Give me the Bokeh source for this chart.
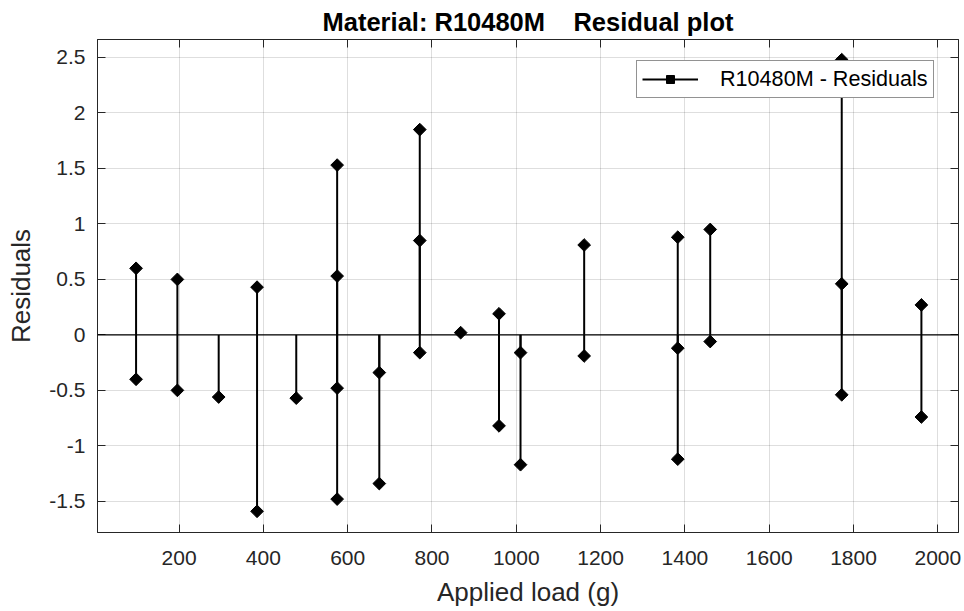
import math
from bokeh.plotting import figure
from bokeh.models import (Range1d, FixedTicker, LinearAxis, Span, Legend, LegendItem,
                          CustomJSTickFormatter, ColumnDataSource)
from bokeh.embed import file_html
from bokeh.resources import INLINE

# ---- data ----
loads = [98, 98, 196, 196, 294, 385, 385, 478, 575, 575, 575, 575,
         675, 675, 771, 771, 771, 868, 959, 959, 1010, 1010, 1161, 1161,
         1383, 1383, 1383, 1460, 1460, 1772, 1772, 1772, 1961, 1961]
residuals = [0.60, -0.40, 0.50, -0.50, -0.56, 0.43, -1.59, -0.57, 1.53, 0.53, -0.48, -1.48,
             -0.34, -1.34, 1.85, 0.85, -0.16, 0.02, 0.19, -0.82, -0.16, -1.17, 0.81, -0.19,
             0.88, -0.12, -1.12, 0.95, -0.06, 2.48, 0.46, -0.54, 0.27, -0.74]
baseline = [0.0] * len(loads)

x_ticks = [200, 400, 600, 800, 1000, 1200, 1400, 1600, 1800, 2000]
x_tick_labels = ["200", "400", "600", "800", "1000", "1200", "1400", "1600", "1800", "2000"]
y_ticks = [-1.5, -1, -0.5, 0, 0.5, 1, 1.5, 2, 2.5]
y_tick_labels = ["-1.5", "-1", "-0.5", "0", "0.5", "1", "1.5", "2", "2.5"]

title_text = "Material: R10480M\u00a0\u00a0\u00a0 Residual plot"
x_label = "Applied load (g)"
y_label = "Residuals"
legend_label = "R10480M - Residuals"

FONT = "Liberation Sans"
GRAY = "#262626"

src = ColumnDataSource(dict(x=loads, y=residuals, y0=baseline))

p = figure(width=962, height=609, output_backend="svg", toolbar_location=None,
           x_range=Range1d(6.5, 2049), y_range=Range1d(-1.781, 2.662),
           min_border_left=97, min_border_right=4, min_border_top=39, min_border_bottom=77)

p.title.text = title_text
p.title.text_font = FONT
p.title.text_font_size = "25.5px"
p.title.text_font_style = "bold"
p.title.text_color = "black"
p.title.align = "center"
p.title.standoff = 7

p.outline_line_color = GRAY
p.outline_line_width = 1
p.background_fill_color = "white"
p.border_fill_color = "white"

# axes
for ax, ticks, labels in ((p.xaxis[0], x_ticks, x_tick_labels), (p.yaxis[0], y_ticks, y_tick_labels)):
    ax.ticker = FixedTicker(ticks=ticks)
    ax.major_label_overrides = {t: l for t, l in zip(ticks, labels)}
    ax.major_tick_in = 8
    ax.major_tick_out = 0
    ax.minor_tick_in = 0
    ax.minor_tick_out = 0
    ax.axis_line_color = GRAY
    ax.major_tick_line_color = GRAY
    ax.major_label_text_font = FONT
    ax.major_label_text_font_size = "21px"
    ax.major_label_text_color = GRAY
    ax.axis_label_text_font = FONT
    ax.axis_label_text_font_size = "26px"
    ax.axis_label_text_font_style = "normal"
    ax.axis_label_text_color = GRAY

p.xaxis.axis_label = x_label
p.yaxis.axis_label = y_label
p.xaxis.major_label_standoff = 18
p.yaxis.major_label_standoff = 12
p.xaxis.axis_label_standoff = 9
p.yaxis.axis_label_standoff = 10

# box ticks on top and right
blank = CustomJSTickFormatter(code="return '';")
for loc, ticks in (("above", x_ticks), ("right", y_ticks)):
    a = LinearAxis(ticker=FixedTicker(ticks=ticks), formatter=blank,
                   major_tick_in=8, major_tick_out=0, minor_tick_in=0, minor_tick_out=0,
                   axis_line_color=GRAY, major_tick_line_color=GRAY,
                   major_label_standoff=0, major_label_text_font_size="1px")
    p.add_layout(a, loc)

p.grid.grid_line_color = "black"
p.grid.grid_line_alpha = 0.13
p.xgrid.ticker = FixedTicker(ticks=x_ticks)
p.ygrid.ticker = FixedTicker(ticks=y_ticks)

# baseline
p.add_layout(Span(location=0, dimension="width", line_color="black", line_width=1.2))

stems = p.segment(x0="x", y0="y0", x1="x", y1="y", source=src, line_color="black", line_width=2)
marks = p.scatter(x="x", y="y", source=src, marker="square", angle=math.pi / 4, size=9,
                  fill_color="black", line_color="black")

legend = Legend(items=[LegendItem(label=legend_label, renderers=[stems, marks])],
                location=(539, 434), margin=0, padding=5,
                glyph_width=56, glyph_height=20, label_standoff=22, label_height=20,
                label_text_font=FONT, label_text_font_size="21.6px", label_text_color="black",
                border_line_color=GRAY, border_line_width=1,
                background_fill_color="white", background_fill_alpha=1)
p.add_layout(legend)

open("out.html", "w").write(file_html(p, INLINE))
